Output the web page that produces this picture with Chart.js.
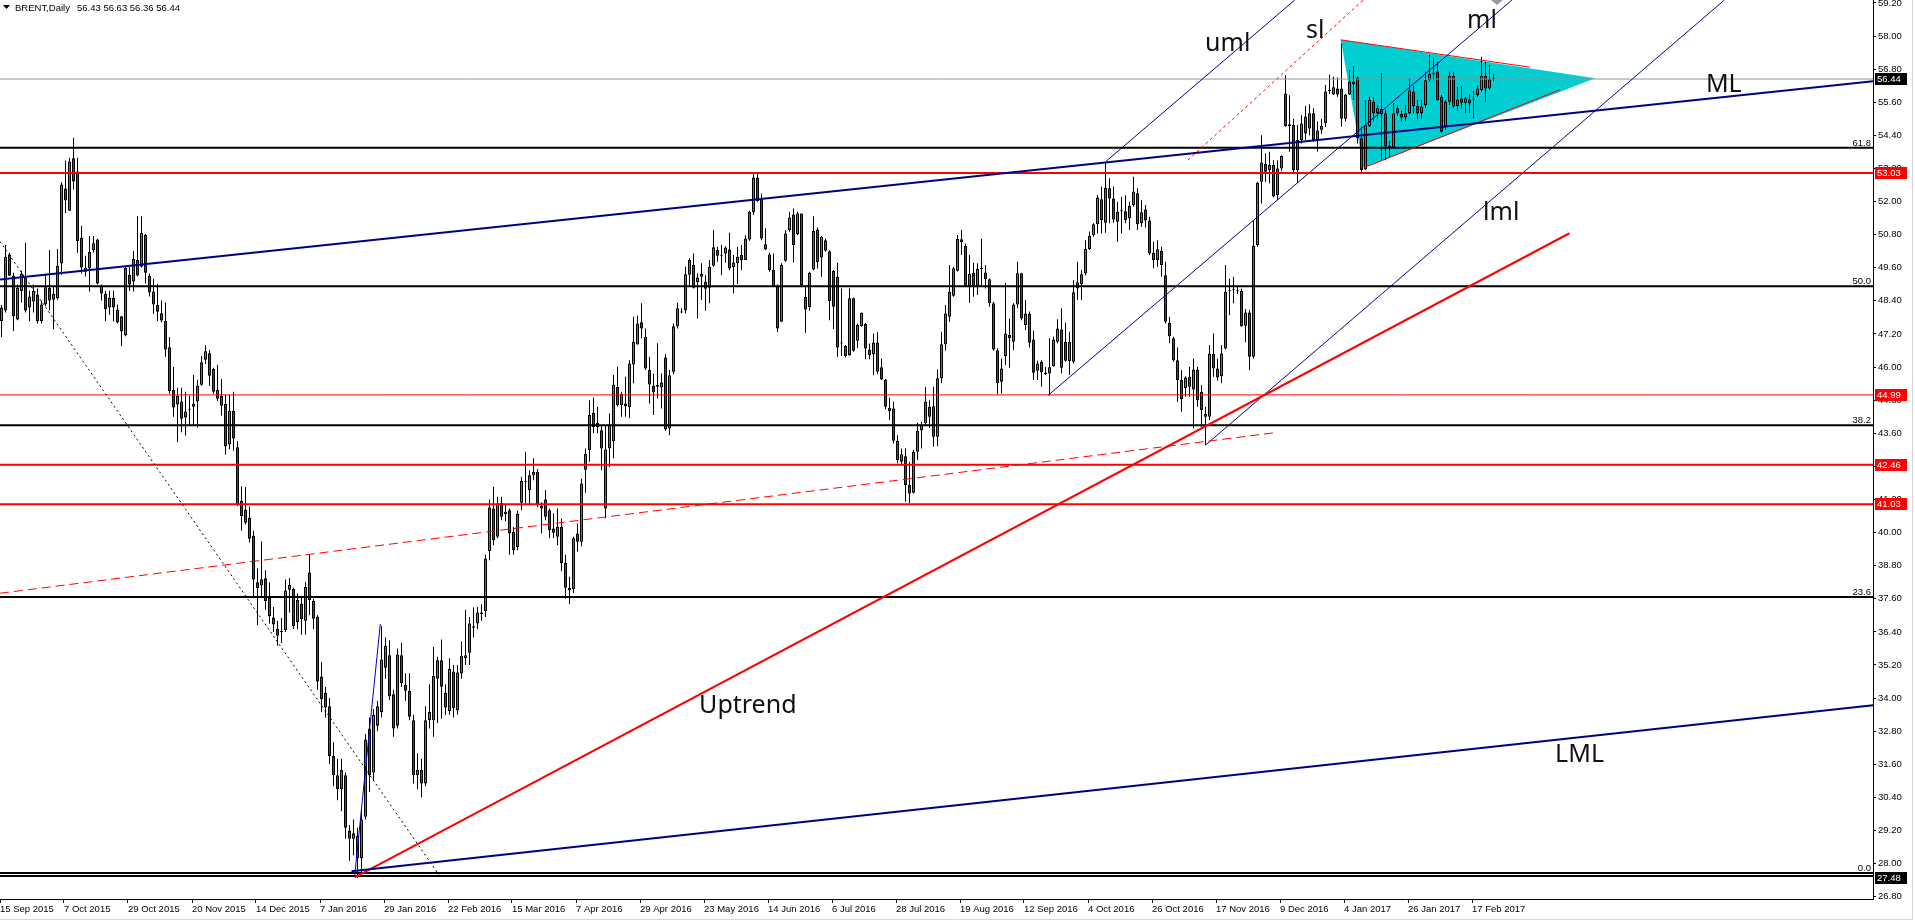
<!DOCTYPE html>
<html>
<head>
<meta charset="utf-8">
<title>BRENT, Daily</title>
<script src="https://cdn.jsdelivr.net/npm/chart.js@4.4.1/dist/chart.umd.min.js"></script>
<style>
  html, body { margin: 0; padding: 0; background: #fff; }
  #wrap { width: 1915px; height: 921px; position: relative; }
</style>
</head>
<body>
<div id="wrap"><canvas id="chart" width="1915" height="921"></canvas></div>
<script>
// daily bars, 15 Sep 2015 (index 0) .. 24 Feb 2017 (index 373)
const opens = [
  47.67, 48.05, 50.07, 49.31, 47.72, 48.76, 49.25, 48.16, 48.38, 48.63,
  47.67, 48.27, 48.87, 48.44, 48.49, 49.75, 52.47, 51.67, 53.57, 53.09,
  50.69, 49.61, 49.57, 50.23, 50.62, 48.96, 48.66, 48.16, 48.50, 48.08,
  47.84, 47.15, 49.35, 49.10, 49.88, 49.64, 50.79, 49.31, 48.74, 48.26,
  47.95, 47.67, 46.72, 45.17, 44.64, 44.75, 44.17, 44.46, 44.56, 44.75,
  45.36, 46.26, 46.50, 45.93, 45.17, 44.96, 44.67, 43.19, 44.42, 43.09,
  41.15, 40.83, 40.54, 39.88, 38.20, 38.08, 38.34, 37.63, 36.92, 36.50,
  36.42, 36.46, 37.93, 37.96, 36.75, 37.42, 36.80, 38.55, 37.52, 36.95,
  34.78, 34.18, 33.70, 31.90, 31.20, 30.70, 31.20, 29.20, 28.90, 29.00,
  28.20, 29.70, 32.90, 31.30, 33.00, 33.50, 35.10, 35.55, 34.14, 33.00,
  35.55, 34.48, 34.27, 33.20, 31.20, 31.40, 30.90, 33.20, 33.20, 34.70,
  35.37, 34.18, 33.52, 34.96, 33.56, 34.89, 35.45, 35.64, 36.55, 36.70,
  37.05, 37.15, 39.33, 40.87, 39.85, 41.08, 40.67, 40.81, 40.03, 39.48,
  41.08, 41.82, 41.54, 42.08, 42.20, 40.87, 41.20, 40.81, 40.15, 39.85,
  40.21, 38.90, 38.00, 37.95, 39.97, 39.67, 42.28, 42.99, 44.34, 43.98,
  43.71, 40.87, 43.05, 43.31, 45.28, 44.62, 44.68, 44.54, 46.09, 46.82,
  47.62, 47.10, 45.89, 45.31, 45.29, 45.26, 46.35, 43.77, 45.83, 47.48,
  47.98, 48.06, 49.35, 49.70, 49.07, 49.27, 49.09, 48.87, 49.67, 50.24,
  50.03, 50.12, 50.26, 49.63, 49.76, 50.06, 49.88, 50.62, 51.61, 52.87,
  52.08, 50.45, 50.08, 49.52, 48.93, 47.64, 49.85, 50.96, 51.53, 50.82,
  51.57, 48.54, 48.18, 49.54, 50.99, 49.97, 50.60, 50.20, 49.48, 49.27,
  46.85, 46.76, 46.43, 48.49, 46.95, 47.48, 47.56, 46.64, 46.46, 46.89,
  45.99, 45.55, 44.52, 44.50, 43.33, 42.57, 42.77, 41.72, 41.44, 42.93,
  43.71, 43.96, 44.56, 44.58, 43.47, 45.59, 46.83, 47.82, 48.58, 49.49,
  50.63, 50.39, 48.93, 49.42, 48.89, 49.55, 49.43, 49.18, 48.31, 46.61,
  45.47, 46.40, 47.16, 46.92, 48.27, 49.40, 47.52, 47.94, 47.00, 45.87,
  46.19, 45.79, 45.77, 46.03, 46.92, 47.36, 46.91, 46.22, 46.19, 48.85,
  49.00, 49.39, 50.28, 50.78, 51.18, 52.08, 51.23, 52.48, 52.11, 51.27,
  51.65, 51.65, 51.39, 51.87, 52.30, 51.21, 51.71, 51.31, 50.14, 49.88,
  50.22, 49.33, 47.61, 47.04, 46.25, 45.53, 45.23, 45.65, 45.19, 45.91,
  45.10, 44.20, 44.20, 46.47, 45.95, 45.67, 46.67, 48.75, 48.80, 48.77,
  48.77, 47.50, 47.98, 46.37, 50.42, 52.72, 53.36, 53.14, 53.32, 52.24,
  53.20, 55.92, 54.80, 54.77, 53.14, 54.23, 54.47, 54.65, 55.20, 54.23,
  54.60, 54.85, 56.00, 55.88, 56.10, 56.10, 55.00, 55.88, 56.34, 56.49,
  54.29, 53.16, 54.74, 55.62, 55.20, 55.35, 55.20, 54.02, 53.96, 55.38,
  55.17, 55.05, 55.20, 55.98, 55.46, 55.20, 55.50, 56.40, 56.60, 56.71,
  55.80, 54.71, 55.62, 56.55, 55.46, 55.73, 55.58, 55.56, 55.70, 55.86,
  56.04, 56.55, 56.10, 56.43
];
const highs = [
  48.25, 50.43, 50.14, 49.42, 48.99, 49.49, 50.50, 48.77, 48.99, 48.85,
  48.41, 49.35, 50.24, 48.92, 50.28, 52.70, 53.48, 53.59, 54.31, 53.59,
  51.12, 50.03, 50.75, 50.75, 50.65, 48.99, 48.77, 48.77, 48.77, 48.27,
  47.84, 49.64, 49.64, 50.21, 51.47, 51.47, 50.82, 49.39, 49.20, 49.02,
  48.41, 48.34, 47.09, 46.00, 45.25, 45.25, 45.10, 44.96, 45.71, 45.54,
  46.40, 46.79, 46.61, 45.97, 46.08, 45.57, 45.00, 44.99, 45.10, 43.31,
  41.68, 41.65, 40.94, 40.07, 38.70, 39.68, 38.63, 38.20, 37.30, 36.80,
  36.90, 38.30, 38.35, 38.00, 37.80, 37.70, 38.20, 39.20, 37.60, 37.00,
  35.30, 34.40, 34.00, 32.40, 31.80, 31.80, 31.30, 29.40, 29.60, 29.30,
  30.00, 32.70, 33.30, 33.60, 33.90, 36.60, 36.20, 36.10, 34.30, 35.80,
  36.00, 34.90, 34.90, 33.40, 32.00, 31.80, 33.70, 34.50, 35.85, 35.50,
  36.12, 34.50, 35.44, 35.20, 35.20, 36.05, 37.20, 36.94, 37.28, 37.30,
  37.40, 39.20, 41.20, 41.66, 41.30, 41.30, 41.00, 40.87, 40.20, 40.80,
  42.02, 42.93, 42.26, 42.69, 42.30, 41.10, 41.54, 40.87, 40.69, 40.87,
  40.51, 39.20, 38.40, 39.85, 40.33, 41.96, 43.05, 44.80, 44.90, 44.56,
  43.86, 43.90, 44.32, 45.71, 46.01, 45.10, 45.65, 46.25, 47.82, 47.86,
  48.31, 47.40, 46.37, 45.77, 46.86, 45.77, 46.47, 45.89, 47.58, 48.34,
  48.13, 49.64, 49.94, 50.12, 49.39, 49.76, 49.33, 49.88, 50.96, 50.36,
  50.42, 50.38, 50.87, 50.06, 50.36, 50.42, 50.78, 51.67, 52.99, 53.04,
  52.29, 51.03, 50.14, 50.12, 48.99, 49.76, 50.96, 51.63, 51.75, 51.63,
  51.57, 48.97, 49.45, 51.47, 51.06, 50.75, 50.66, 50.24, 49.52, 49.78,
  48.85, 46.80, 48.85, 48.52, 47.58, 47.98, 47.60, 46.85, 47.22, 47.27,
  46.31, 45.57, 44.89, 44.74, 43.53, 43.05, 43.05, 42.57, 42.99, 43.98,
  44.02, 45.28, 44.80, 45.29, 45.91, 47.28, 48.25, 49.70, 49.64, 50.79,
  50.97, 50.48, 50.06, 49.78, 49.76, 50.66, 49.70, 49.21, 48.37, 46.68,
  46.31, 49.06, 47.76, 48.31, 49.82, 49.42, 48.43, 48.01, 47.32, 46.23,
  46.25, 46.01, 47.04, 47.10, 47.73, 48.13, 47.61, 47.28, 49.15, 49.82,
  49.51, 50.60, 50.91, 51.21, 52.24, 52.54, 53.44, 52.84, 52.54, 51.99,
  52.17, 52.23, 51.99, 52.90, 52.48, 52.05, 51.87, 51.45, 50.54, 50.60,
  50.36, 49.82, 47.82, 47.10, 46.71, 45.89, 45.67, 46.01, 46.31, 46.01,
  45.35, 44.56, 46.80, 47.22, 46.30, 46.80, 49.70, 49.21, 49.27, 48.94,
  48.85, 48.10, 48.06, 51.33, 52.72, 54.40, 53.74, 53.80, 53.50, 53.50,
  53.68, 56.58, 55.85, 55.00, 54.77, 55.13, 55.46, 55.53, 55.38, 54.90,
  55.00, 56.22, 56.60, 56.52, 56.50, 57.73, 55.90, 56.77, 56.90, 56.52,
  54.71, 55.68, 55.80, 55.80, 55.50, 56.65, 55.32, 54.20, 55.56, 55.50,
  55.30, 55.50, 56.46, 56.20, 55.68, 55.68, 56.70, 57.31, 57.19, 57.07,
  55.86, 55.68, 56.70, 56.70, 56.16, 56.19, 55.80, 55.90, 56.00, 56.22,
  57.25, 57.07, 56.95, 56.63
];
const lows = [
  47.09, 47.98, 49.30, 47.31, 47.70, 48.34, 47.98, 47.65, 47.98, 47.58,
  47.58, 48.20, 48.05, 47.36, 48.44, 49.35, 51.58, 51.66, 52.44, 50.14,
  49.39, 49.28, 48.74, 50.14, 48.99, 48.41, 47.67, 47.90, 47.65, 47.58,
  46.76, 47.12, 48.77, 48.74, 49.28, 49.61, 49.03, 48.56, 47.93, 47.67,
  47.62, 46.37, 45.03, 44.20, 43.28, 43.64, 43.52, 43.88, 43.88, 43.81,
  45.32, 46.11, 45.32, 45.03, 44.77, 44.24, 42.83, 43.02, 42.97, 40.96,
  40.07, 40.29, 39.64, 37.62, 36.65, 37.70, 37.20, 36.70, 36.40, 35.90,
  36.00, 36.40, 37.10, 36.50, 36.50, 36.30, 36.30, 37.00, 36.50, 34.30,
  33.50, 33.30, 31.60, 30.80, 30.30, 29.90, 28.90, 28.10, 28.30, 27.48,
  27.70, 29.60, 30.60, 31.00, 32.80, 33.30, 34.70, 33.93, 32.60, 32.90,
  34.40, 33.90, 33.20, 30.90, 30.70, 30.40, 30.80, 32.90, 32.60, 33.10,
  33.25, 33.40, 33.40, 33.30, 33.40, 34.70, 35.20, 35.20, 36.20, 36.50,
  36.80, 36.94, 39.00, 39.54, 39.79, 40.45, 40.40, 39.20, 39.20, 39.36,
  40.81, 41.05, 40.99, 41.90, 40.93, 39.97, 40.45, 39.79, 39.80, 39.54,
  38.60, 37.60, 37.40, 37.80, 39.30, 39.50, 41.44, 42.57, 43.60, 43.60,
  42.26, 40.51, 42.38, 42.69, 44.56, 44.20, 44.20, 44.14, 45.41, 46.82,
  47.04, 45.89, 44.68, 44.26, 44.86, 44.50, 43.69, 43.53, 45.74, 47.40,
  47.95, 47.94, 48.91, 48.85, 47.76, 48.43, 48.04, 48.31, 49.64, 49.82,
  49.33, 49.78, 49.51, 48.67, 49.01, 49.51, 49.88, 50.58, 51.51, 51.99,
  50.60, 50.24, 49.45, 48.91, 47.27, 47.64, 49.82, 50.90, 49.79, 50.78,
  48.91, 47.24, 48.04, 49.51, 49.57, 49.27, 50.18, 47.70, 47.38, 46.37,
  46.40, 46.35, 46.41, 46.55, 46.68, 47.46, 46.28, 46.28, 45.70, 45.74,
  45.53, 44.46, 44.08, 43.23, 42.51, 42.44, 41.12, 41.06, 41.42, 42.63,
  43.05, 43.90, 43.80, 43.11, 43.13, 45.41, 46.60, 47.64, 48.55, 49.46,
  50.06, 48.91, 48.33, 48.55, 48.61, 48.91, 48.85, 48.19, 46.59, 45.02,
  45.04, 46.07, 45.97, 46.61, 48.13, 47.70, 47.34, 46.71, 45.53, 45.53,
  45.29, 45.71, 44.98, 46.01, 46.86, 45.77, 46.19, 45.71, 46.13, 48.43,
  48.43, 49.33, 50.24, 50.72, 50.84, 50.84, 50.87, 51.21, 51.23, 50.54,
  50.84, 51.21, 50.97, 51.81, 50.97, 51.09, 51.06, 50.06, 49.58, 49.64,
  49.27, 47.58, 46.86, 46.19, 44.74, 44.38, 44.92, 44.92, 43.78, 44.56,
  43.81, 43.17, 44.08, 45.65, 45.50, 45.41, 46.64, 47.88, 48.31, 48.65,
  47.46, 46.90, 45.89, 46.30, 50.36, 51.93, 52.72, 52.66, 52.15, 52.05,
  53.10, 54.71, 53.80, 53.02, 52.68, 54.10, 54.23, 54.40, 54.17, 53.80,
  54.45, 54.70, 55.90, 55.86, 55.80, 54.71, 54.90, 55.86, 55.68, 54.10,
  53.08, 53.14, 54.70, 54.90, 55.00, 53.50, 53.50, 53.60, 53.93, 55.10,
  54.90, 54.90, 55.17, 55.20, 55.00, 55.00, 55.40, 56.34, 56.40, 55.66,
  54.50, 54.60, 55.50, 55.40, 55.30, 55.38, 55.20, 55.20, 55.00, 55.80,
  56.00, 55.62, 56.05, 56.36
];
const closes = [
  48.16, 50.00, 49.31, 47.84, 48.87, 49.39, 48.05, 48.56, 48.76, 47.67,
  48.27, 48.89, 48.41, 48.66, 49.67, 52.62, 52.04, 53.45, 52.73, 50.57,
  49.61, 49.45, 50.18, 50.49, 49.03, 48.67, 48.10, 48.50, 48.16, 47.62,
  47.29, 49.60, 48.99, 49.92, 49.32, 50.86, 49.42, 48.70, 48.27, 48.00,
  47.69, 46.64, 45.13, 44.53, 44.96, 44.13, 44.39, 44.45, 44.67, 45.32,
  46.17, 46.57, 45.68, 45.10, 44.85, 44.60, 43.12, 44.42, 43.41, 41.00,
  40.60, 40.36, 39.78, 38.30, 37.99, 38.31, 37.52, 36.97, 36.67, 36.26,
  36.40, 37.90, 38.10, 36.60, 37.56, 36.87, 38.03, 37.56, 36.88, 34.60,
  33.96, 33.66, 31.90, 31.20, 30.70, 31.40, 29.30, 28.90, 29.10, 28.20,
  29.60, 32.50, 31.20, 33.40, 33.70, 35.40, 35.90, 34.07, 32.90, 35.58,
  34.55, 34.27, 33.32, 31.20, 31.40, 30.90, 33.20, 33.50, 34.80, 35.37,
  34.41, 33.66, 35.05, 33.63, 34.93, 35.53, 35.55, 36.70, 36.60, 37.10,
  37.10, 39.06, 40.91, 39.73, 41.05, 40.57, 40.75, 39.97, 39.36, 40.67,
  41.88, 41.84, 42.08, 42.20, 40.99, 40.96, 40.57, 40.09, 39.99, 40.21,
  38.90, 38.00, 37.90, 39.79, 39.67, 41.78, 42.86, 44.26, 43.83, 43.83,
  43.05, 43.01, 43.90, 45.36, 44.62, 45.02, 44.58, 46.13, 46.92, 47.58,
  47.40, 45.95, 45.37, 45.08, 45.35, 45.44, 43.74, 45.70, 47.48, 48.13,
  47.99, 49.36, 49.88, 48.87, 49.25, 49.37, 48.84, 49.64, 50.34, 50.03,
  50.02, 50.33, 49.57, 49.79, 50.00, 49.88, 50.66, 51.63, 52.87, 52.02,
  50.66, 50.26, 49.52, 48.91, 47.40, 49.70, 50.84, 51.42, 50.42, 51.57,
  48.97, 48.09, 49.42, 50.93, 49.81, 50.72, 50.22, 48.39, 48.19, 46.71,
  46.86, 46.40, 48.49, 46.59, 47.52, 47.97, 46.67, 46.43, 46.89, 45.83,
  45.55, 44.56, 44.40, 43.33, 42.63, 42.84, 41.72, 41.42, 42.93, 43.69,
  43.90, 44.74, 44.20, 43.47, 45.59, 46.83, 47.94, 48.73, 49.58, 50.64,
  50.52, 48.95, 49.37, 48.95, 49.55, 49.55, 49.18, 48.31, 46.64, 45.41,
  45.95, 47.22, 47.04, 48.27, 49.40, 47.76, 47.94, 46.88, 45.79, 46.13,
  45.81, 45.75, 45.99, 47.00, 47.40, 45.97, 46.23, 46.92, 48.71, 49.07,
  49.36, 50.28, 50.75, 51.18, 52.15, 51.33, 52.50, 52.11, 51.35, 51.63,
  51.65, 51.33, 51.84, 52.36, 51.18, 51.61, 51.31, 50.12, 49.88, 50.27,
  49.70, 47.64, 47.12, 46.25, 45.53, 44.83, 45.62, 45.29, 45.91, 44.80,
  44.44, 44.30, 46.49, 45.95, 45.62, 46.49, 48.73, 48.76, 48.80, 48.75,
  47.48, 47.98, 46.37, 50.39, 52.68, 53.41, 53.08, 53.32, 52.18, 53.20,
  53.65, 54.74, 54.74, 53.14, 54.23, 54.83, 55.08, 55.20, 54.23, 54.57,
  54.74, 55.99, 56.04, 56.14, 55.88, 55.00, 55.88, 56.34, 56.26, 54.29,
  53.14, 54.77, 55.68, 55.20, 55.38, 55.17, 53.99, 53.96, 55.20, 55.20,
  55.05, 55.20, 56.02, 55.46, 55.20, 55.44, 56.40, 56.62, 56.67, 55.68,
  54.53, 55.62, 56.55, 55.44, 55.70, 55.58, 55.74, 55.70, 55.70, 56.10,
  56.55, 56.10, 56.43, 56.44
];

// time axis labels and the bar each one sits on
const dateLabels = [
  '15 Sep 2015', '7 Oct 2015', '29 Oct 2015', '20 Nov 2015', '14 Dec 2015', '7 Jan 2016',
  '29 Jan 2016', '22 Feb 2016', '15 Mar 2016', '7 Apr 2016', '29 Apr 2016', '23 May 2016',
  '14 Jun 2016', '6 Jul 2016', '28 Jul 2016', '19 Aug 2016', '12 Sep 2016', '4 Oct 2016',
  '26 Oct 2016', '17 Nov 2016', '9 Dec 2016', '4 Jan 2017', '26 Jan 2017', '17 Feb 2017'
];
const dateLabelBars = [0, 16, 32, 48, 64, 80, 96, 112, 128, 144, 160, 176, 192, 208, 224, 240, 256, 272, 288, 304, 320, 336, 352, 368];

// price axis
const priceTicks = [26.80, 28.00, 29.20, 30.40, 31.60, 32.80, 34.00, 35.20, 36.40, 37.60, 38.80, 40.00, 41.20, 42.40,
  43.60, 44.80, 46.00, 47.20, 48.40, 49.60, 50.80, 52.00, 53.20, 54.40, 55.60, 56.80, 58.00, 59.20];

// horizontal levels
const lastPrice = 56.44;
const redLevels = [53.03, 44.99, 42.46, 41.03];
const fibNames = ['61.8', '50.0', '38.2', '23.6', '0.0'];
const fibPrices = [53.95, 48.93, 43.89, 37.66, 27.66];
const lowLevel = 27.55;
const axisBoxes = [56.44, 53.03, 44.99, 42.46, 41.03, 27.48];

// hand drawn objects, end points as [bar, price]
const mlLine = [[-0.375, 49.17], [467.875, 56.36]];
const lmlLine = [[87.5, 27.72], [467.875, 33.74]];
const uptrendLine = [[88.3, 27.5], [392, 50.85]];
const dashedRedLine = [[-0.375, 37.8], [318.4, 43.62]];
const dottedBlackLine = [[-0.375, 50.55], [109.8, 27.5]];
const lowSwingLine = [[88.3, 27.56], [94.7, 36.69]];
const umlChannel = [[276, 53.44], [323.3, 59.3]];
const mlChannel = [[261.7, 44.98], [377.6, 59.3]];
const lmlChannel = [[301, 43.17], [430.7, 59.3]];
const slLine = [[296.6, 53.5], [340.4, 59.3]];
const triangle = [[334.8, 57.86], [340.5, 53.22], [398.4, 56.47], [334.8, 57.86]];
const triTopEdge = [[334.8, 57.86], [382.1, 56.87]];
const triBottomEdge = [[340.5, 53.22], [389.6, 56.05]];

const noteTexts = ['uml', 'sl', 'ml', 'ML', 'lml', 'Uptrend', 'LML'];
const noteAt = [[300.9, 57.46], [326.1, 57.91], [366.4, 58.29], [426.1, 55.97], [370.4, 51.33], [174.4, 33.46], [388.4, 31.68]];

const X_MIN = -0.375, X_MAX = 467.875;
const Y_MIN = 26.717, Y_MAX = 59.305;
const SMALL_FONT = '9.5px "Liberation Sans", Arial, sans-serif';

function seg(points, color, width, dash, order) {
  return {
    type: 'line',
    data: points.map(([x, y]) => ({ x, y })),
    borderColor: color,
    borderWidth: width,
    borderDash: dash || [],
    pointRadius: 0,
    fill: false,
    tension: 0,
    order: order || 5
  };
}
function level(price, color, width) {
  return seg([[X_MIN, price], [X_MAX, price]], color, width, null, 6);
}

const bodyColors = opens.map((o, i) => (closes[i] >= o ? '#23a523' : '#ff0000'));

const datasets = [
  {
    type: 'bar', label: 'body', order: 40,
    data: opens.map((o, i) => ({ x: i, y: [o, closes[i]] })),
    backgroundColor: bodyColors, borderColor: '#000', borderWidth: 1, borderSkipped: false,
    barThickness: 3, minBarLength: 1, grouped: false, inflateAmount: 0
  },
  {
    type: 'bar', label: 'wick', order: 50,
    data: lows.map((l, i) => ({ x: i, y: [l, highs[i]] })),
    backgroundColor: '#000', borderWidth: 0, barThickness: 1, grouped: false, inflateAmount: 0
  },
  {
    type: 'line', label: 'triangle', order: 100,
    data: triangle.map(([x, y]) => ({ x, y })),
    borderColor: 'rgba(0,0,0,0)', borderWidth: 0, backgroundColor: '#00ced1',
    fill: 'shape', pointRadius: 0, tension: 0
  },
  level(lastPrice, '#8896a8', 1),
  level(redLevels[0], '#ff0000', 2),
  level(redLevels[1], '#ff0000', 1),
  level(redLevels[2], '#ff0000', 2),
  level(redLevels[3], '#ff0000', 2),
  level(lowLevel, '#000', 2),
  ...fibPrices.map(p => level(p, '#000', 2)),
  seg(mlLine, '#000080', 2),
  seg(lmlLine, '#000080', 2),
  seg(uptrendLine, '#ff0000', 2),
  seg(dashedRedLine, '#ff0000', 1, [9, 5]),
  seg(dottedBlackLine, '#000', 1, [2, 3]),
  seg(lowSwingLine, '#0000c0', 1),
  seg(umlChannel, '#00008b', 1),
  seg(mlChannel, '#00008b', 1),
  seg(lmlChannel, '#00008b', 1),
  seg(slLine, '#ff0000', 1, [3, 3]),
  seg(triTopEdge, '#ff0000', 1),
  seg(triBottomEdge, '#ff0000', 1)
];

// texts, fib captions, price boxes and window chrome
const overlay = {
  id: 'overlay',
  afterDatasetsDraw(chart) {
    const { ctx, scales: { x, y } } = chart;
    ctx.save();
    ctx.fillStyle = '#111';
    ctx.font = '25px "Noto Sans", "Open Sans", sans-serif';
    ctx.textAlign = 'left';
    ctx.textBaseline = 'alphabetic';
    noteTexts.forEach((t, i) => {
      ctx.fillText(t, x.getPixelForValue(noteAt[i][0]), y.getPixelForValue(noteAt[i][1]));
    });
    ctx.font = SMALL_FONT;
    ctx.textAlign = 'right';
    ctx.fillStyle = '#000';
    fibNames.forEach((n, i) => {
      ctx.fillText(n, x.right - 2, y.getPixelForValue(fibPrices[i]) - 2);
    });
    ctx.restore();
  },
  afterDraw(chart) {
    const { ctx, scales: { y } } = chart;
    ctx.save();
    ctx.font = SMALL_FONT;
    ctx.textBaseline = 'middle';
    ctx.textAlign = 'left';
    axisBoxes.forEach(v => {
      const py = Math.round(y.getPixelForValue(v));
      const red = redLevels.includes(v);
      ctx.fillStyle = red ? '#ff0000' : '#000';
      ctx.fillRect(y.left + 2, py - 6, 32, 12);
      ctx.fillStyle = '#fff';
      ctx.fillText(v.toFixed(2), y.left + 4, py + 0.5);
    });
    // title
    ctx.fillStyle = '#000';
    ctx.beginPath();
    ctx.moveTo(3, 5); ctx.lineTo(10, 5); ctx.lineTo(6.5, 9); ctx.closePath();
    ctx.fill();
    ctx.fillText('BRENT,Daily', 15, 8);
    ctx.fillText(opens[opens.length - 1].toFixed(2) + ' ' + highs[highs.length - 1].toFixed(2) + ' ' +
      lows[lows.length - 1].toFixed(2) + ' ' + closes[closes.length - 1].toFixed(2), 77, 8);
    // chart shift marker
    ctx.fillStyle = '#9a9a9a';
    ctx.beginPath();
    ctx.moveTo(1491, 0); ctx.lineTo(1503, 0); ctx.lineTo(1497, 5); ctx.closePath();
    ctx.fill();
    // window frame
    ctx.strokeStyle = '#d8d8d8';
    ctx.lineWidth = 1;
    ctx.beginPath();
    ctx.moveTo(1912.5, 0); ctx.lineTo(1912.5, 919.5); ctx.lineTo(0, 919.5);
    ctx.stroke();
    ctx.restore();
  }
};

Chart.defaults.font.family = '"Liberation Sans", Arial, sans-serif';
Chart.defaults.font.size = 9.5;
Chart.defaults.color = '#000';

new Chart(document.getElementById('chart'), {
  type: 'bar',
  data: { datasets },
  plugins: [overlay],
  options: {
    responsive: false,
    animation: false,
    devicePixelRatio: 1,
    events: [],
    layout: { padding: 0 },
    plugins: { legend: { display: false }, tooltip: { enabled: false } },
    scales: {
      x: {
        type: 'linear', min: X_MIN, max: X_MAX, offset: false, bounds: 'data',
        grid: { offset: false, drawOnChartArea: false, drawTicks: true, tickLength: 4, color: '#000' },
        border: { display: true, color: '#000', width: 1 },
        afterBuildTicks(s) { s.ticks = dateLabelBars.map(b => ({ value: b - 0.375 })); },
        afterFit(s) { s.height = 22; s.paddingLeft = 0; s.paddingRight = 0; },
        ticks: {
          autoSkip: false, maxRotation: 0, minRotation: 0, align: 'start', padding: 1,
          font: { size: 9.5 }, color: '#000',
          callback: (v, i) => dateLabels[i]
        }
      },
      y: {
        type: 'linear', position: 'right', min: Y_MIN, max: Y_MAX, bounds: 'data', beginAtZero: false,
        grid: { drawOnChartArea: false, drawTicks: true, tickLength: 3, color: '#000' },
        border: { display: true, color: '#000', width: 1 },
        afterBuildTicks(s) { s.ticks = priceTicks.map(v => ({ value: v })); },
        afterFit(s) { s.width = 42; s.paddingTop = 0; s.paddingBottom = 0; },
        ticks: { padding: 2, font: { size: 9.5 }, color: '#000', callback: v => v.toFixed(2) }
      }
    }
  }
});
</script>
</body>
</html>
